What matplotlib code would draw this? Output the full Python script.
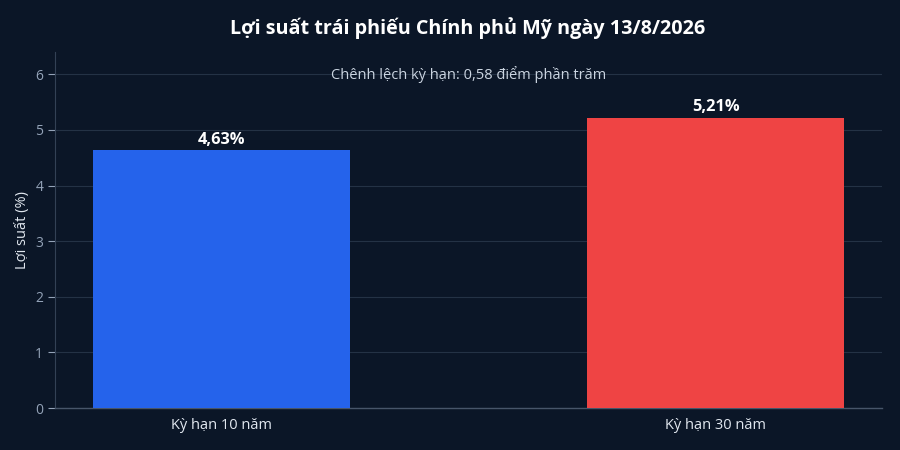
import matplotlib
matplotlib.use("Agg")
import matplotlib.pyplot as plt

categories = ["Kỳ hạn 10 năm", "Kỳ hạn 30 năm"]
yields = [4.63, 5.21]
value_labels = ["4,63%", "5,21%"]
colors = ["#2563eb", "#ef4444"]
yticks = [0, 1, 2, 3, 4, 5, 6]
title = "Lợi suất trái phiếu Chính phủ Mỹ ngày 13/8/2026"
note = "Chênh lệch kỳ hạn: 0,58 điểm phần trăm"
ylabel = "Lợi suất (%)"

plt.rcParams['font.family'] = ['Open Sans', 'Noto Sans', 'DejaVu Sans']
bg = "#0b1627"
fig = plt.figure(figsize=(9, 4.5), dpi=100, facecolor=bg)
ax = fig.add_axes([0.0611, 0.0933, 0.9189, 0.7911], facecolor=bg)

x = list(range(len(categories)))
ax.bar(x, yields, width=0.52, color=colors, zorder=3)
for xi, v, lab in zip(x, yields, value_labels):
    ax.annotate(lab, (xi, v), xytext=(0, 2), textcoords="offset points",
                ha="center", va="bottom", color="white", fontsize=11.8,
                fontweight="bold", zorder=4)

ax.set_xlim(-0.337, 1.336)
ax.set_ylim(0, 6.4)
ax.set_yticks(yticks)
ax.set_xticks(x)
ax.set_xticklabels(categories, fontsize=10.5, color="#e2e8f0")
ax.tick_params(axis="y", colors="#94a3b8", labelsize=10, length=5, width=0.8)
ax.tick_params(axis="x", length=0, pad=7)
for t in ax.get_yticklabels():
    t.set_color("#94a3b8")
ax.grid(axis="y", color="#243245", linewidth=0.8, zorder=0)
for s in ["top", "right"]:
    ax.spines[s].set_visible(False)
ax.spines["left"].set_color("#334155")
ax.spines["bottom"].set_color("#475569")
ax.spines["left"].set_linewidth(0.8)
ax.spines["bottom"].set_linewidth(1.0)
ax.set_ylabel(ylabel, color="#e2e8f0", fontsize=10.5)
ax.yaxis.set_label_coords(-0.030, 0.5)

fig.text(0.52, 0.938, title, color="white", fontsize=14.2, fontweight="bold",
         ha="center", va="center")
ax.text(0.5, 6.0, note, transform=ax.transData,
        ha="center", va="center", color="#cbd5e1", fontsize=10.5)

fig.savefig("out.png", dpi=100, facecolor=bg)
